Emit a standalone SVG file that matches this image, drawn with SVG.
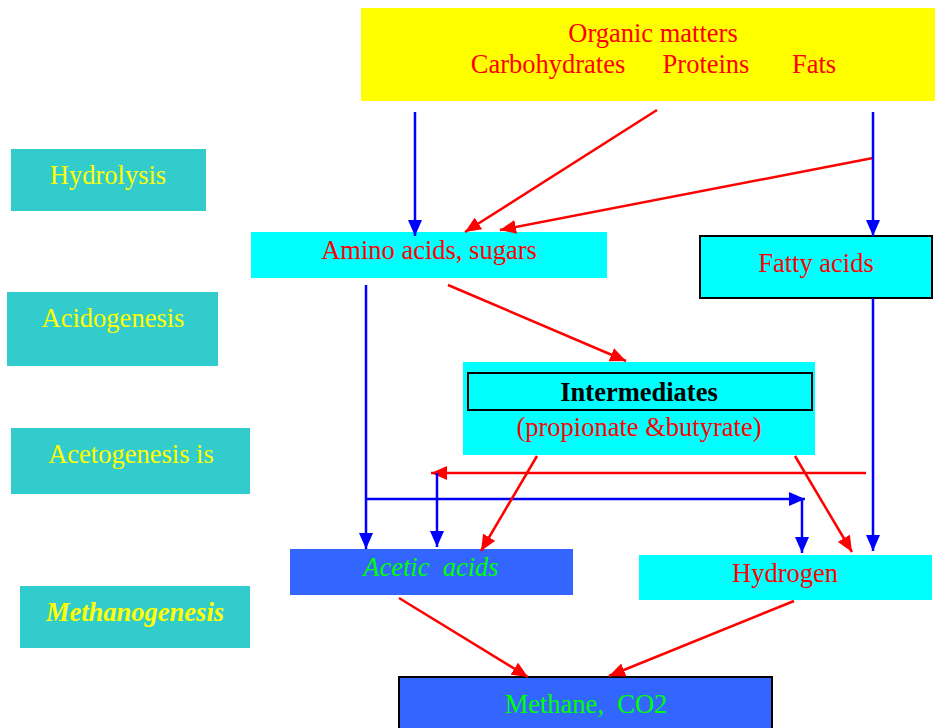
<svg xmlns="http://www.w3.org/2000/svg" width="936" height="728" viewBox="0 0 936 728">
<defs>
<marker id="ab" markerUnits="userSpaceOnUse" markerWidth="16" markerHeight="14" refX="16" refY="7" orient="auto"><path d="M0,0 L16,7 L0,14 Z" fill="#0000FF"/></marker>
<marker id="ar" markerUnits="userSpaceOnUse" markerWidth="16" markerHeight="14" refX="16" refY="7" orient="auto"><path d="M0,0 L16,7 L0,14 Z" fill="#FF0000"/></marker>
</defs>
<style>
text{font-family:"Liberation Serif","Times New Roman",serif;font-size:26.5px;text-anchor:middle}
.stage{fill:#33CCCC}
.stx{fill:#FFFF00}
.cy{fill:#00FFFF}
.bl{fill:#3366FF}
.red{fill:#FF0000}
.grn{fill:#00FF00}
.b{stroke:#0000FF;stroke-width:2.5;fill:none;marker-end:url(#ab)}
.r{stroke:#FF0000;stroke-width:2.5;fill:none;marker-end:url(#ar)}
</style>
<g id="organic">
<rect x="361" y="8" width="574" height="93" fill="#FFFF00"/>
<text x="653" y="42" class="red">Organic matters</text>
<text x="548" y="73" class="red">Carbohydrates</text>
<text x="706" y="73" class="red">Proteins</text>
<text x="814" y="73" class="red">Fats</text>
</g>
<g id="hydrolysis"><rect class="stage" x="11" y="149" width="195" height="62"/><text class="stx" x="108" y="184">Hydrolysis</text></g>
<g id="acidogenesis"><rect class="stage" x="7" y="292" width="211" height="74"/><text class="stx" x="113" y="327">Acidogenesis</text></g>
<g id="acetogenesis"><rect class="stage" x="11" y="428" width="239" height="66"/><text class="stx" x="131" y="463">Acetogenesis is</text></g>
<g id="methanogenesis"><rect class="stage" x="20" y="586" width="230" height="62"/><text class="stx" x="135" y="621" font-weight="bold" font-style="italic">Methanogenesis</text></g>
<g id="amino"><rect class="cy" x="251" y="232" width="356" height="46"/><text class="red" x="429" y="259">Amino acids, sugars</text></g>
<g id="fatty"><rect class="cy" x="700" y="236" width="232" height="62" stroke="#000" stroke-width="2"/><text class="red" x="816" y="272">Fatty acids</text></g>
<g id="intermediates">
<rect class="cy" x="463" y="362" width="352" height="93"/>
<rect x="468" y="373" width="344" height="37" fill="none" stroke="#000" stroke-width="2"/>
<text x="639" y="401" font-weight="bold" fill="#000">Intermediates</text>
<text class="red" x="639" y="436">(propionate &amp;butyrate)</text>
</g>
<g id="acetic"><rect class="bl" x="290" y="549" width="283" height="46"/><text class="grn" x="431" y="576" font-style="italic" xml:space="preserve">Acetic  acids</text></g>
<g id="hydrogen"><rect class="cy" x="639" y="555" width="293" height="45"/><text class="red" x="785" y="582">Hydrogen</text></g>
<g id="methane"><rect class="bl" x="399" y="677" width="373" height="52" stroke="#000" stroke-width="2"/><text class="grn" x="586" y="713" xml:space="preserve">Methane,  CO2</text></g>
<g id="connectors">
<line class="b" x1="415" y1="112" x2="415" y2="236"/>
<line class="r" x1="657" y1="110" x2="465" y2="232"/>
<line class="r" x1="873" y1="158" x2="500" y2="230"/>
<line class="b" x1="873" y1="112" x2="873" y2="236"/>
<line class="b" x1="366" y1="285" x2="366" y2="549"/>
<line class="r" x1="448" y1="285" x2="626" y2="361"/>
<line class="b" x1="873" y1="298" x2="873" y2="551"/>
<line class="r" x1="866" y1="473" x2="431" y2="473"/>
<line class="b" x1="437" y1="473" x2="437" y2="547"/>
<line class="b" x1="366" y1="499" x2="805" y2="499"/>
<line class="b" x1="802" y1="499" x2="802" y2="553"/>
<line class="r" x1="537" y1="456" x2="481" y2="551"/>
<line class="r" x1="795" y1="456" x2="852" y2="552"/>
<line class="r" x1="399" y1="598" x2="528" y2="677"/>
<line class="r" x1="794" y1="601" x2="609" y2="676"/>
</g>
</svg>
